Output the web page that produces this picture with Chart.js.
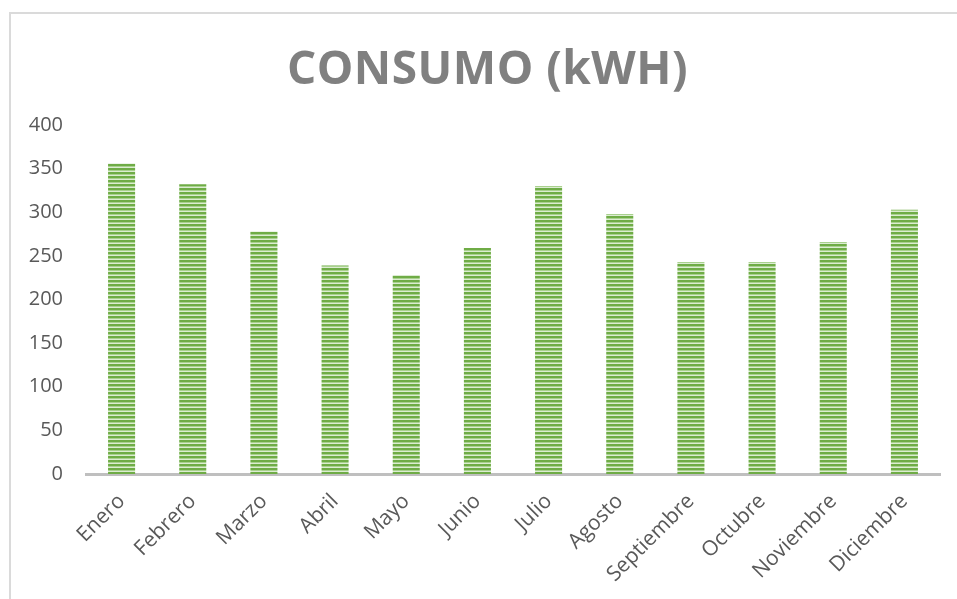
<!DOCTYPE html>
<html>
  <head>
    <title>Consumo (kWH)</title>
    <script src="https://cdn.jsdelivr.net/npm/chart.js"></script>
    <style>
      html, body { margin: 0; padding: 0; background: #fff; overflow: hidden; }
      #wrap { position: relative; width: 957px; height: 599px; }
      #marco { position: absolute; left: 9px; top: 12px; width: 1000px; height: 700px;
               border: 2px solid #dadada; box-sizing: border-box; pointer-events: none; }
      #titulo { position: absolute; left: 9px; top: 36px; width: 957px; text-align: center;
                font-family: "Open Sans", sans-serif; font-weight: bold; font-size: 46px;
                letter-spacing: 0.5px; color: #808080; line-height: 60px; }
    </style>
  </head>
  <body>
    <div id="wrap">
      <canvas id="grafico" width="957" height="599"></canvas>
      <div id="titulo">CONSUMO (kWH)</div>
      <div id="marco"></div>
    </div>

    <script>
      // datos
      const meses = ['Enero', 'Febrero', 'Marzo', 'Abril', 'Mayo', 'Junio', 'Julio',
                     'Agosto', 'Septiembre', 'Octubre', 'Noviembre', 'Diciembre'];
      const consumo = [356, 332, 278, 239, 228, 259, 330, 298, 243, 243, 266, 303];
      const ejeY = { min: 0, max: 400, paso: 50 };

      // relleno a rayas horizontales para las barras
      function rayas() {
        const c = document.createElement('canvas');
        c.width = 4; c.height = 4;
        const g = c.getContext('2d');
        g.fillStyle = '#6fac46'; g.fillRect(0, 0, 4, 2);
        g.fillStyle = '#a9d18e'; g.fillRect(0, 2, 4, 1);
        g.fillStyle = '#dcecd2'; g.fillRect(0, 3, 4, 1);
        return g.createPattern(c, 'repeat');
      }

      const ctx = document.getElementById('grafico').getContext('2d');

      new Chart(ctx, {
        type: 'bar',
        data: {
          labels: meses,
          datasets: [{
            label: 'Consumo',
            data: consumo,
            backgroundColor: rayas(),
            borderWidth: 0,
            barPercentage: 0.38,
            categoryPercentage: 1
          }]
        },
        options: {
          responsive: false,
          animation: false,
          layout: { padding: { top: 125, right: 17, bottom: 0, left: 0 } },
          plugins: {
            legend: { display: false },
            tooltip: { enabled: false }
          },
          scales: {
            x: {
              grid: { display: false, drawTicks: false },
              border: { display: true, color: '#bfbfbf', width: 3 },
              ticks: {
                minRotation: 45, maxRotation: 45, padding: 15,
                color: '#595959',
                font: { family: '"Open Sans", sans-serif', size: 21 }
              },
              afterFit: (s) => { s.height = 125; }
            },
            y: {
              min: ejeY.min, max: ejeY.max,
              grid: { display: false, drawTicks: false },
              border: { display: false },
              ticks: {
                stepSize: ejeY.paso, padding: 23,
                color: '#595959',
                font: { family: '"Open Sans", sans-serif', size: 20 }
              },
              afterFit: (s) => { s.width = 86; }
            }
          }
        }
      });
    </script>
  </body>
</html>
